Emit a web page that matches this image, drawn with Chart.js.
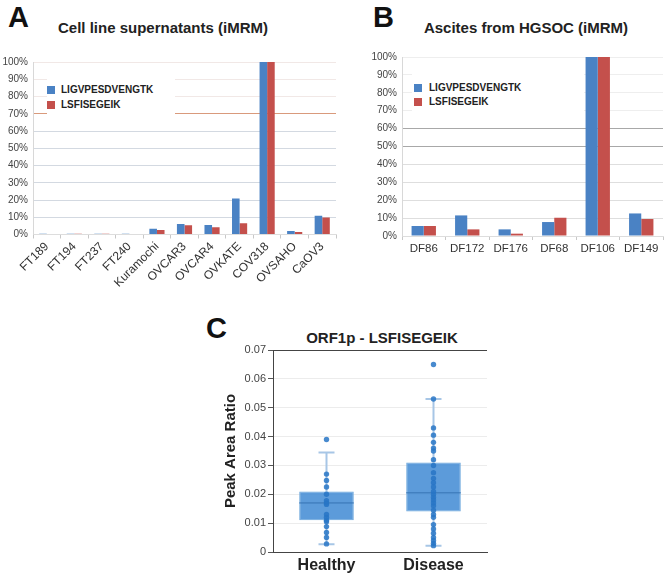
<!DOCTYPE html>
<html>
<head>
<meta charset="utf-8">
<script src="https://cdn.jsdelivr.net/npm/chart.js@4.4.1/dist/chart.umd.min.js"></script>
<style>
  body { margin: 0; background: #fff; font-family: "Liberation Sans", Arial, sans-serif; }
  #page { position: relative; width: 668px; height: 579px; overflow: hidden; }
  .box { position: absolute; }
  .letter { position: absolute; font-weight: bold; font-size: 29px; line-height: 1; color: #111; }
  .title { position: absolute; font-weight: bold; font-size: 15px; line-height: 1; color: #222; text-align: center; white-space: nowrap; }
  .legend { position: absolute; background: #fff; }
  .sw { position: absolute; width: 8px; height: 8px; }
  .lt { position: absolute; font-weight: bold; font-size: 10px; line-height: 10px; color: #222; white-space: nowrap; }
</style>
</head>
<body>
<div id="page">
  <div class="letter" style="left:8px; top:3px;">A</div>
  <div class="title" style="left:13px; width:300px; top:20px;">Cell line supernatants (iMRM)</div>
  <div class="letter" style="left:373px; top:3px;">B</div>
  <div class="title" style="left:376px; width:300px; top:20px;">Ascites from HGSOC (iMRM)</div>
  <div class="letter" style="left:206px; top:314px;">C</div>
  <div class="title" style="left:232px; width:300px; top:330px;">ORF1p - LSFISEGEIK</div>

  <div class="box" style="left:0; top:50px; width:340px; height:250px;"><canvas id="chartA"></canvas></div>
  <div class="box" style="left:340px; top:45px; width:328px; height:255px;"><canvas id="chartB"></canvas></div>
  <div class="box" style="left:218px; top:340px; width:274px; height:239px;"><canvas id="chartC"></canvas></div>

  <div class="legend" style="left:47px; top:79px; width:128px; height:37px;">
    <div class="sw" style="left:0; top:7px; background:#4a82c4;"></div>
    <div class="lt" style="left:14px; top:6px;">LIGVPESDVENGTK</div>
    <div class="sw" style="left:0; top:22px; background:#c4504c;"></div>
    <div class="lt" style="left:14px; top:21px;">LSFISEGEIK</div>
  </div>
  <div class="legend" style="left:412px; top:60px; width:172px; height:54px;">
    <div class="sw" style="left:2px; top:24px; background:#4a82c4;"></div>
    <div class="lt" style="left:17px; top:23px;">LIGVPESDVENGTK</div>
    <div class="sw" style="left:2px; top:38px; background:#c4504c;"></div>
    <div class="lt" style="left:17px; top:37px;">LSFISEGEIK</div>
  </div>
</div>

<script>
Chart.defaults.font.family = '"Liberation Sans", Arial, sans-serif';
Chart.defaults.animation = false;
Chart.defaults.plugins.legend.display = false;
Chart.defaults.plugins.tooltip.enabled = false;

const BLUE = '#4a82c4';
const RED = '#c4504c';

// Panel A: cell line supernatants (% of max)
const cellLines = ['FT189', 'FT194', 'FT237', 'FT240', 'Kuramochi', 'OVCAR3', 'OVCAR4', 'OVKATE', 'COV318', 'OVSAHO', 'CaOV3'];
const cellLigv = [0.5, 0.5, 0.5, 0.5, 3.4, 6.1, 5.5, 20.8, 100, 2.0, 10.9];
const cellLsfi = [0, 0.5, 0.5, 0, 2.6, 5.3, 4.2, 6.5, 100, 1.4, 9.8];

// Panel B: ascites samples (% of max)
const ascites = ['DF86', 'DF172', 'DF176', 'DF68', 'DF106', 'DF149'];
const ascLigv = [5.6, 11.5, 3.7, 7.8, 100, 12.6];
const ascLsfi = [5.6, 3.7, 1.3, 10.2, 100, 9.5];

const pctTicks = [0, 10, 20, 30, 40, 50, 60, 70, 80, 90, 100];

// Panel C: box plot of peak area ratio
const groups = ['Healthy', 'Disease'];
const healthyPoints = [0.039, 0.027, 0.0248, 0.0225, 0.020, 0.0178, 0.017, 0.0165, 0.013, 0.012, 0.011, 0.0105, 0.0088, 0.0068, 0.005, 0.0028];
const diseasePoints = [0.065, 0.053, 0.043, 0.0405, 0.038, 0.036, 0.035, 0.032, 0.030, 0.0275, 0.0255, 0.024, 0.0225, 0.021, 0.020,
  0.019, 0.018, 0.017, 0.016, 0.0145, 0.013, 0.012, 0.0095, 0.008, 0.0065, 0.005, 0.004, 0.003, 0.0022];
const boxQ1 = [0.011, 0.014];
const boxMedian = [0.017, 0.0205];
const boxQ3 = [0.021, 0.031];
const whiskerLow = [0.0027, 0.0022];
const whiskerHigh = [0.0345, 0.053];
const ratioTicks = [0, 0.01, 0.02, 0.03, 0.04, 0.05, 0.06, 0.07];

function barChart(id, labels, a, b, opts) {
  return new Chart(document.getElementById(id), {
    type: 'bar',
    data: {
      labels: labels,
      datasets: [
        { data: a, backgroundColor: BLUE, categoryPercentage: opts.cat, barPercentage: 1 },
        { data: b, backgroundColor: RED, categoryPercentage: opts.cat, barPercentage: 1 }
      ]
    },
    options: {
      responsive: true,
      maintainAspectRatio: false,
      layout: { padding: { top: 12, right: opts.right, left: 0, bottom: 0 } },
      scales: {
        x: {
          afterFit: s => { s.height = opts.xh; },
          grid: { drawOnChartArea: false, tickLength: 4, tickColor: '#c8c8c8' },
          border: { color: '#dddddd' },
          ticks: {
            autoSkip: false, color: '#333', padding: opts.xpad,
            maxRotation: opts.rot, minRotation: opts.rot,
            font: { size: opts.xfont }
          }
        },
        y: {
          min: 0, max: 100,
          afterFit: s => { s.width = opts.yw; },
          afterBuildTicks: s => { s.ticks = pctTicks.map(v => ({ value: v })); },
          grid: { drawTicks: false, color: c => opts.gridColor(c.tick.value) },
          border: { color: '#d8d8d8' },
          ticks: { color: '#444', padding: 5, font: { size: 10 }, callback: v => v + '%' }
        }
      }
    }
  });
}

barChart('chartA', cellLines, cellLigv, cellLsfi, {
  cat: 0.55, right: 4, xh: 65.5, yw: 33, rot: 45, xfont: 12, xpad: 1,
  gridColor: v => v === 70 ? '#d99a7c' : (v >= 80 ? '#f1e8e6' : (v === 0 ? 'rgba(0,0,0,0)' : '#d3d9e1'))
});

barChart('chartB', ascites, ascLigv, ascLsfi, {
  cat: 0.56, right: 5, xh: 64, yw: 62, rot: 0, xfont: 11.5, xpad: 2,
  gridColor: v => (v === 50 || v === 60) ? '#a8a8a8' : (v >= 70 ? '#eeeeee' : (v === 0 ? 'rgba(0,0,0,0)' : '#dedede'))
});

// whiskers, caps and medians for the box plot
const boxExtras = {
  id: 'boxExtras',
  beforeDatasetsDraw(chart) {
    const { ctx, scales: { x, y } } = chart;
    ctx.save();
    ctx.strokeStyle = '#a7c6e6';
    ctx.lineWidth = 2;
    groups.forEach((g, i) => {
      const cx = x.getPixelForValue(i);
      ctx.beginPath();
      ctx.moveTo(cx, y.getPixelForValue(whiskerLow[i]));
      ctx.lineTo(cx, y.getPixelForValue(boxQ1[i]));
      ctx.moveTo(cx, y.getPixelForValue(boxQ3[i]));
      ctx.lineTo(cx, y.getPixelForValue(whiskerHigh[i]));
      [whiskerLow[i], whiskerHigh[i]].forEach(v => {
        const py = y.getPixelForValue(v);
        ctx.moveTo(cx - 8, py);
        ctx.lineTo(cx + 8, py);
      });
      ctx.stroke();
    });
    ctx.restore();
  },
  afterDatasetDraw(chart, args) {
    if (args.index !== 0) return;
    const { ctx, scales: { y } } = chart;
    const meta = chart.getDatasetMeta(0);
    ctx.save();
    ctx.strokeStyle = '#3673b3';
    ctx.lineWidth = 1;
    meta.data.forEach((bar, i) => {
      const py = y.getPixelForValue(boxMedian[i]);
      ctx.beginPath();
      ctx.moveTo(bar.x - bar.width / 2, py);
      ctx.lineTo(bar.x + bar.width / 2, py);
      ctx.stroke();
    });
    ctx.restore();
  }
};

const pointData = healthyPoints.map(v => ({ x: 'Healthy', y: v }))
  .concat(diseasePoints.map(v => ({ x: 'Disease', y: v })));

new Chart(document.getElementById('chartC'), {
  type: 'bar',
  data: {
    labels: groups,
    datasets: [
      {
        data: groups.map((g, i) => [boxQ1[i], boxQ3[i]]),
        backgroundColor: 'rgba(74,144,214,0.9)',
        borderColor: '#6aa6dc', borderWidth: 1, borderSkipped: false,
        categoryPercentage: 1, barPercentage: 0.51, order: 2
      },
      {
        type: 'line', data: pointData, showLine: false, order: 1,
        pointRadius: 2.7, pointBorderWidth: 0,
        pointBackgroundColor: 'rgba(40,118,198,0.85)'
      }
    ]
  },
  options: {
    responsive: true,
    maintainAspectRatio: false,
    layout: { padding: { top: 10, right: 5, left: 0, bottom: 0 } },
    scales: {
      x: {
        afterFit: s => { s.height = 27; },
        grid: { display: false, drawTicks: false },
        border: { color: '#444' },
        ticks: { color: '#222', padding: 4, font: { size: 16, weight: 'bold' } }
      },
      y: {
        min: 0, max: 0.07,
        afterFit: s => { s.width = 55; },
        afterBuildTicks: s => { s.ticks = ratioTicks.map(v => ({ value: v })); },
        title: { display: true, text: 'Peak Area Ratio', color: '#222', font: { size: 15, weight: 'bold' } },
        grid: {
          tickLength: 5, tickColor: '#555',
          color: c => Math.abs(c.tick.value - 0.07) < 1e-9 ? '#444' : (c.tick.value === 0 ? 'rgba(0,0,0,0)' : '#ececec')
        },
        border: { color: '#444' },
        ticks: { color: '#444', padding: 2, font: { size: 11 }, callback: v => v === 0 ? '0' : v.toFixed(2) }
      }
    }
  },
  plugins: [boxExtras]
});
</script>
</body>
</html>
